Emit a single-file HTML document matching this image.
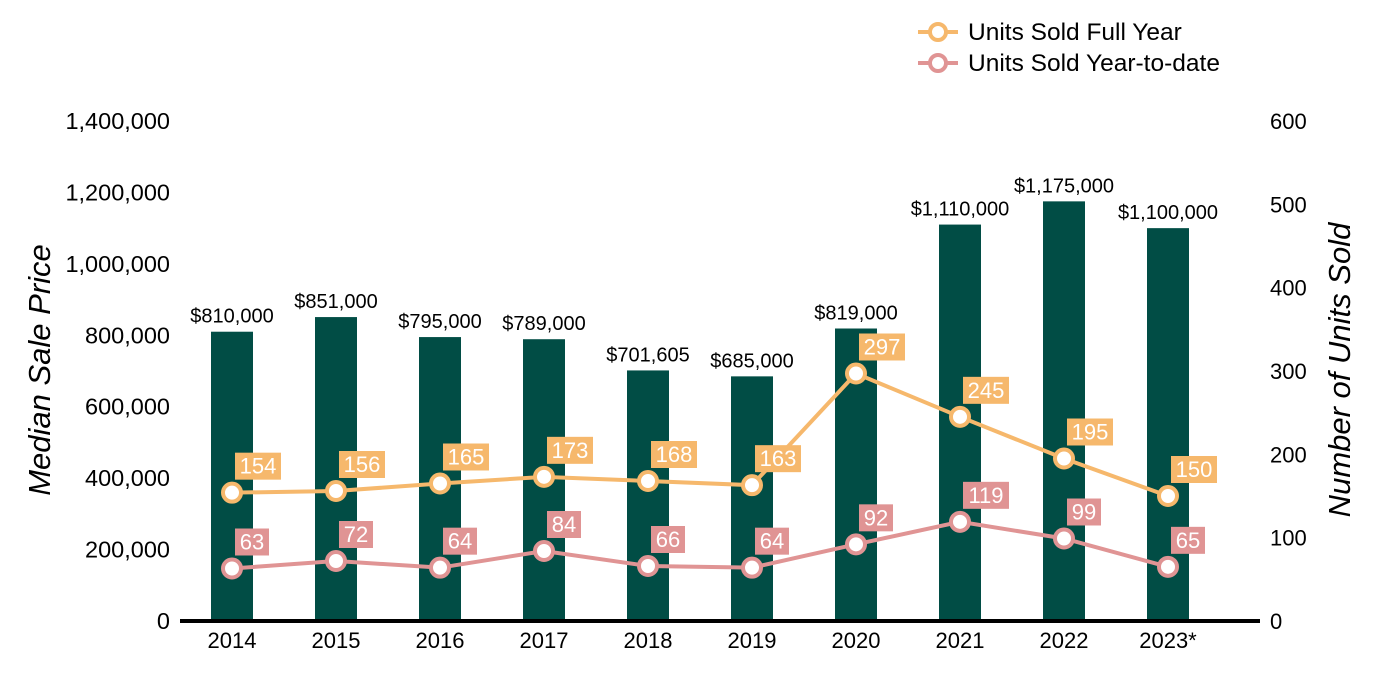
<!DOCTYPE html>
<html><head><meta charset="utf-8"><style>
body{margin:0;background:#fff;}
svg{display:block;font-family:"Liberation Sans",Arial,sans-serif;}
</style></head><body>
<svg id="c" width="1400" height="700"></svg>
<script>
const categories=["2014","2015","2016","2017","2018","2019","2020","2021","2022","2023*"];
const medianPrices=[810000,851000,795000,789000,701605,685000,819000,1110000,1175000,1100000];
const unitsFullYear=[154,156,165,173,168,163,297,245,195,150];
const unitsYTD=[63,72,64,84,66,64,92,119,99,65];
const leftTicks=[0,200000,400000,600000,800000,1000000,1200000,1400000];
const rightTicks=[0,100,200,300,400,500,600];

const NS="http://www.w3.org/2000/svg";
const svg=document.getElementById('c');
function el(t,a,txt){const e=document.createElementNS(NS,t);for(const k in a)e.setAttribute(k,a[k]);if(txt!==undefined)e.textContent=txt;svg.appendChild(e);return e;}
const y0=621,yTop=121;
const yL=v=>y0-v/1400000*(y0-yTop);
const yR=v=>y0-v/600*(y0-yTop);
const xC=i=>232+i*104;
const fmt=v=>v.toLocaleString('en-US');

leftTicks.forEach(t=>{const e=el('text',{x:170,y:yL(t)+8,'text-anchor':'end','font-size':23.5,fill:'#000'},fmt(t));

});
rightTicks.forEach(t=>{const e=el('text',{x:1270,y:yR(t)+8,'font-size':22,fill:'#000'},t);

});

let e=el('text',{transform:'translate(50,370) rotate(-90)','text-anchor':'middle','font-size':31,'font-style':'italic',fill:'#000'},'Median Sale Price');

e=el('text',{transform:'translate(1350,370) rotate(-90)','text-anchor':'middle','font-size':31,'font-style':'italic',fill:'#000'},'Number of Units Sold');


categories.forEach((c,i)=>{
 const b=el('rect',{x:xC(i)-21,y:yL(medianPrices[i]),width:42,height:y0-yL(medianPrices[i]),fill:'#014d45'});
 
 
 const l=el('text',{x:xC(i),y:yL(medianPrices[i])-9,'text-anchor':'middle','font-size':20,fill:'#000'},'$'+fmt(medianPrices[i]));
 
 
 const x=el('text',{x:xC(i),y:648,'text-anchor':'middle','font-size':22,fill:'#000'},c);
 
 
});
e=el('line',{x1:180,x2:1260,y1:y0,y2:y0,stroke:'#000','stroke-width':4});


function series(vals,color,name){
 const p=el('polyline',{points:vals.map((v,i)=>xC(i)+','+yR(v)).join(' '),fill:'none',stroke:color,'stroke-width':4});
 
 
 vals.forEach((v,i)=>{
  const cx=xC(i),cy=yR(v);
  const m=el('circle',{cx:cx,cy:cy,r:9,fill:'#fff',stroke:color,'stroke-width':4});
  
  
  const w=String(v).length*12+10;
  const r=el('rect',{x:cx+3,y:cy-40,width:w,height:27,fill:color});
  
  
  const t=el('text',{x:cx+3+w/2,y:cy-19,'text-anchor':'middle','font-size':22,fill:'#fff'},v);
  
  
 });
}
series(unitsFullYear,'#f6b86c','units-full-year');
series(unitsYTD,'#e09494','units-ytd');

[['Units Sold Full Year','#f6b86c',32],['Units Sold Year-to-date','#e09494',63]].forEach(([n,c,y])=>{
 const l=el('line',{x1:918,x2:958,y1:y,y2:y,stroke:c,'stroke-width':4});
 
 
 const m=el('circle',{cx:938,cy:y,r:8,fill:'#fff',stroke:c,'stroke-width':4});
 
 
 const t=el('text',{x:968,y:y+8,'font-size':24.5,fill:'#000'},n);
 
 
});
</script>
</body></html>
